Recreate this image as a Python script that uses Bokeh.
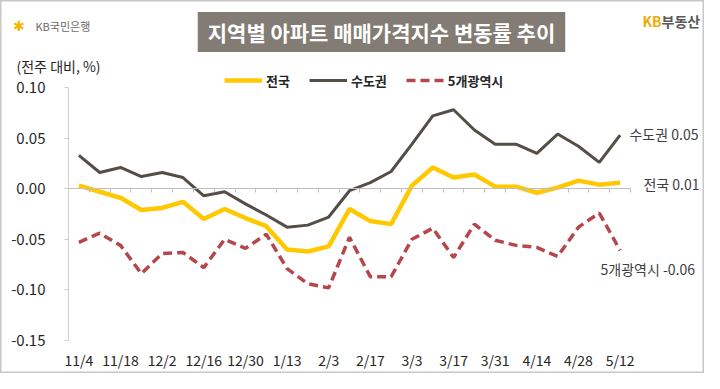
from bokeh.plotting import figure
from bokeh.models import (Range1d, LinearAxis, FixedTicker, NumeralTickFormatter,
                          Legend, LegendItem, Label)
from bokeh.embed import file_html
from bokeh.resources import INLINE

# ---------------- data ----------------
dates = ["11/4", "11/11", "11/18", "11/25", "12/2", "12/9", "12/16", "12/23", "12/30",
         "1/6", "1/13", "1/20", "2/3", "2/10", "2/17", "2/24", "3/3", "3/10", "3/17",
         "3/24", "3/31", "4/7", "4/14", "4/21", "4/28", "5/5", "5/12"]
national = [0.003, -0.003, -0.009, -0.021, -0.019, -0.013, -0.030, -0.020, -0.029,
            -0.037, -0.060, -0.062, -0.057, -0.020, -0.032, -0.035, 0.003, 0.021, 0.011,
            0.014, 0.002, 0.002, -0.004, 0.001, 0.008, 0.004, 0.006]
capital = [0.033, 0.016, 0.021, 0.012, 0.016, 0.011, -0.007, -0.003, -0.015,
           -0.026, -0.038, -0.036, -0.028, -0.002, 0.006, 0.017, 0.044, 0.072, 0.078,
           0.058, 0.044, 0.044, 0.035, 0.054, 0.042, 0.026, 0.053]
metro5 = [-0.053, -0.044, -0.056, -0.084, -0.064, -0.063, -0.078, -0.050, -0.059,
          -0.045, -0.079, -0.094, -0.098, -0.048, -0.087, -0.087, -0.050, -0.039, -0.068,
          -0.035, -0.051, -0.056, -0.058, -0.067, -0.038, -0.024, -0.061]
series_names = ["전국", "수도권", "5개광역시"]
y_ticks = [-0.15, -0.10, -0.05, 0.00, 0.05, 0.10]
title_text = "지역별 아파트 매매가격지수 변동률 추이"
unit_text = "(전주 대비, %)"

# ---------------- layout ----------------
FONT = "Noto Sans CJK KR"
n = len(dates)
xs = list(range(n))
Y0, Y1 = y_ticks[0], y_ticks[-1]
W, H = 704, 373
AX_L, AX_T, AX_R, AX_B = 68, 87, 630, 340      # pixel box of the axes area
XPX = (AX_R - AX_L) / n
YPX = (AX_B - AX_T) / (Y1 - Y0)
x_start = -0.5 - AX_L / XPX
y_end = Y1 + AX_T / YPX

p = figure(width=W, height=H,
           x_range=Range1d(x_start, x_start + W / XPX),
           y_range=Range1d(y_end - H / YPX, y_end),
           output_backend="svg", toolbar_location=None,
           x_axis_location=None, y_axis_location=None,
           min_border=0, min_border_left=0, min_border_right=0,
           min_border_top=0, min_border_bottom=0)
p.outline_line_color = "#C8C8C8"
p.outline_line_width = 2
p.grid.visible = False
p.background_fill_color = "white"
p.border_fill_color = "white"

def fx(px):
    return x_start + px / XPX
def fy(py):
    return y_end - py / YPX

# y axis
ya = LinearAxis(fixed_location=-0.5, bounds=(Y0, Y1),
                ticker=FixedTicker(ticks=y_ticks),
                formatter=NumeralTickFormatter(format="0.00"),
                axis_line_color="#D0D0D0", major_tick_line_color="#D0D0D0",
                major_tick_in=0, major_tick_out=4, minor_tick_line_color=None,
                major_label_standoff=19, major_label_text_font=FONT,
                major_label_text_font_size="15px", major_label_text_color="#262626")
p.add_layout(ya, "left")

# zero line with category boundary ticks
zero_axis = LinearAxis(fixed_location=0, bounds=(-0.5, n - 0.5),
                       ticker=FixedTicker(ticks=[], minor_ticks=[i - 0.5 for i in range(n + 1)]),
                       axis_line_color="#BFBFBF", axis_line_width=1.2,
                       major_tick_line_color=None,
                       minor_tick_line_color="#BFBFBF", minor_tick_in=0, minor_tick_out=4)
p.add_layout(zero_axis, "below")

# date labels
label_axis = LinearAxis(fixed_location=Y0, ticker=FixedTicker(ticks=xs[::2]),
                        major_label_overrides={i: dates[i] for i in xs[::2]},
                        axis_line_color=None, major_tick_line_color=None,
                        minor_tick_line_color=None, major_label_standoff=3,
                        major_label_text_font=FONT, major_label_text_font_size="14px",
                        major_label_text_color="#262626")
p.add_layout(label_axis, "below")

# series
COL_NAT, COL_CAP, COL_MET = "#FFC800", "#544E46", "#B5474B"
r_met = p.line(xs, metro5, line_color=COL_MET, line_width=3.5, line_dash="9 5")
r_nat = p.line(xs, national, line_color=COL_NAT, line_width=4.5)
r_cap = p.line(xs, capital, line_color=COL_CAP, line_width=3)

legend = Legend(items=[LegendItem(label=series_names[0], renderers=[r_nat]),
                       LegendItem(label=series_names[1], renderers=[r_cap]),
                       LegendItem(label=series_names[2], renderers=[r_met])],
                orientation="horizontal", location=(224, H - 90),
                glyph_width=38, glyph_height=20, label_standoff=4, spacing=19,
                padding=0, margin=0, background_fill_alpha=0, border_line_color=None,
                label_text_font=FONT, label_text_font_size="13px",
                label_text_font_style="bold", label_text_color="#262626")
p.add_layout(legend)

# end labels
end_specs = [(series_names[1], capital, 0.45, 0.0015),
             (series_names[0], national, 1.12, -0.001),
             (series_names[2], metro5, -0.94, -0.018)]
for name, ser, dx, dy in end_specs:
    p.add_layout(Label(x=n - 1 + dx, y=ser[-1] + dy, text=f"{name} {ser[-1]:.2f}",
                       text_align="left", text_baseline="middle", text_font=FONT,
                       text_font_size="14px", text_color="#404040"))

# title box
p.add_layout(Label(x=fx(381), y=fy(31.5), text=title_text, text_align="center",
                   text_baseline="middle", text_color="white", text_font=FONT,
                   text_font_size="21px", text_font_style="bold",
                   background_fill_color="#827C74",
                   padding=dict(left=10, right=10, top=5, bottom=5)))

# unit label
p.add_layout(Label(x=fx(16), y=fy(65), text=unit_text, text_align="left",
                   text_baseline="middle", text_font=FONT, text_font_size="14px",
                   text_color="#262626"))

# logos
p.add_layout(Label(x=fx(12), y=fy(25), text="✱", text_align="left", text_baseline="middle",
                   text_font_size="14px", text_color="#F5B400"))
p.add_layout(Label(x=fx(35), y=fy(25), text="KB국민은행", text_align="left",
                   text_baseline="middle", text_font=FONT, text_font_size="11px",
                   text_color="#6B6B6B"))
p.add_layout(Label(x=fx(642), y=fy(20.7), text="KB", text_align="left",
                   text_baseline="middle", text_font=FONT, text_font_size="14px",
                   text_font_style="bold", text_color="#F2A900"))
p.add_layout(Label(x=fx(661), y=fy(20.7), text="부동산", text_align="left",
                   text_baseline="middle", text_font=FONT, text_font_size="14px",
                   text_font_style="bold", text_color="#595959"))

open("out.html", "w").write(file_html(p, INLINE))
